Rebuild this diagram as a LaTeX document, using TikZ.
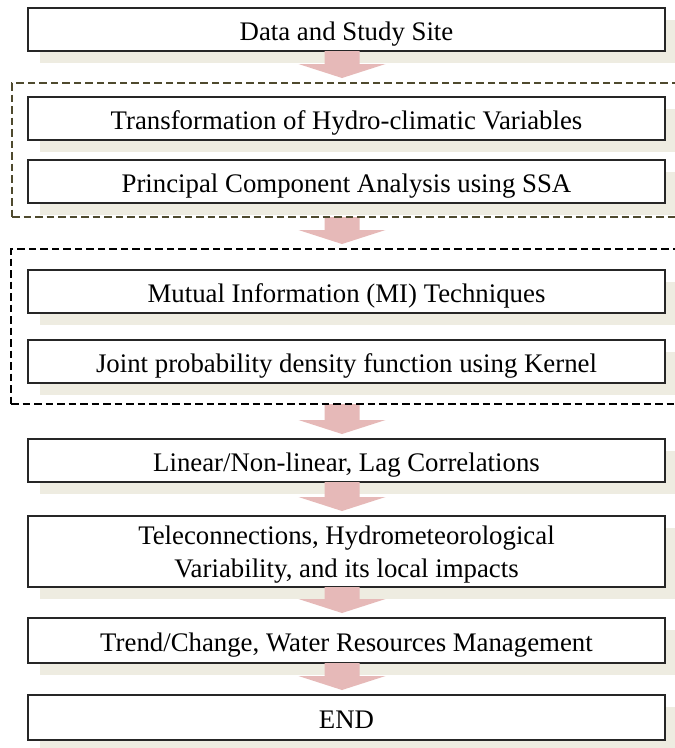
\documentclass[tikz,border=0pt]{standalone}
\usepackage{fontspec}
\setmainfont{Liberation Serif}
\usetikzlibrary{positioning,fit,shadows,calc}
\definecolor{shadeCol}{HTML}{EEECE1}
\definecolor{arrowCol}{HTML}{E6B9B8}
\definecolor{boxEdge}{HTML}{262626}
\definecolor{grpEdge}{HTML}{4F4A2E}
\pgfdeclarelayer{front}
\pgfsetlayers{main,front}
\tikzset{
  stage/.style={draw=boxEdge, fill=white, line width=1.3pt, minimum width=637pt,
        minimum height=43pt, inner sep=0pt, outer sep=0pt, align=center,
        font=\fontsize{26.8}{33}\selectfont, text height=21pt, text depth=0pt,
        drop shadow={shadow xshift=12pt, shadow yshift=-12pt, fill=shadeCol, opacity=1}},
  stage2/.style={stage, text height=, minimum height=71pt},
  group/.style n args={3}{draw=#1, line width=2.4pt, dash pattern=on 7.5pt off 4pt,
        inner xsep=#2, inner ysep=#3, outer sep=0pt},
}
% block arrow from the bottom of #1 to just above #2
\newcommand{\fatarrow}[2]{%
  \fill[arrowCol] let \p1=([xshift=-4.5pt]#1.south), \p2=([yshift=5pt]#2.north) in
    (\x1-17.5pt,\y1) -- (\x1+17.5pt,\y1) -- (\x1+17.5pt,\y2+14pt) -- (\x1+43.5pt,\y2+14pt)
    -- (\x1,\y2) -- (\x1-43.5pt,\y2+14pt) -- (\x1-17.5pt,\y2+14pt) -- cycle;}

\begin{document}
\begin{tikzpicture}[x=1pt, y=-1pt]
  \useasboundingbox (0,0) rectangle (675,748);
  \fill[white] (0,0) rectangle (675,748);
  \clip (0,0) rectangle (675,748);
  \node[stage] (b1) at (346.5,29.5) {Data and Study Site};
  \node[stage, below=46pt of b1] (b2) {Transformation of Hydro-climatic Variables};
  \node[stage, below=20pt of b2] (b3) {Principal Component Analysis using SSA};
  \node[stage, below=67pt of b3] (b4) {Mutual Information (MI) Techniques};
  \node[stage, below=27pt of b4] (b5) {Joint probability density function using Kernel};
  \node[stage, below=56pt of b5] (b6) {Linear/Non-linear, Lag Correlations};
  \node[stage2, below=34pt of b6] (b7) {Teleconnections, Hydrometeorological\\Variability, and its local impacts};
  \node[stage, below=31pt of b7, minimum height=45pt] (b8) {Trend/Change, Water Resources Management};
  \node[stage, below=32pt of b8, minimum height=45pt] (b9) {END};
  % dashed groups
  \begin{pgfonlayer}{front}
    \node[group={grpEdge}{16pt}{14pt}, fit=(b2)(b3)] (g1) {};
    \node[group={black}{17pt}{21pt}, fit=(b4)(b5)] (g2) {};
  \end{pgfonlayer}
  % block arrows
  \fatarrow{b1}{g1}
  \fatarrow{g1}{g2}
  \fatarrow{g2}{b6}
  \fatarrow{b6}{b7}
  \fatarrow{b7}{b8}
  \fatarrow{b8}{b9}
\end{tikzpicture}
\end{document}
